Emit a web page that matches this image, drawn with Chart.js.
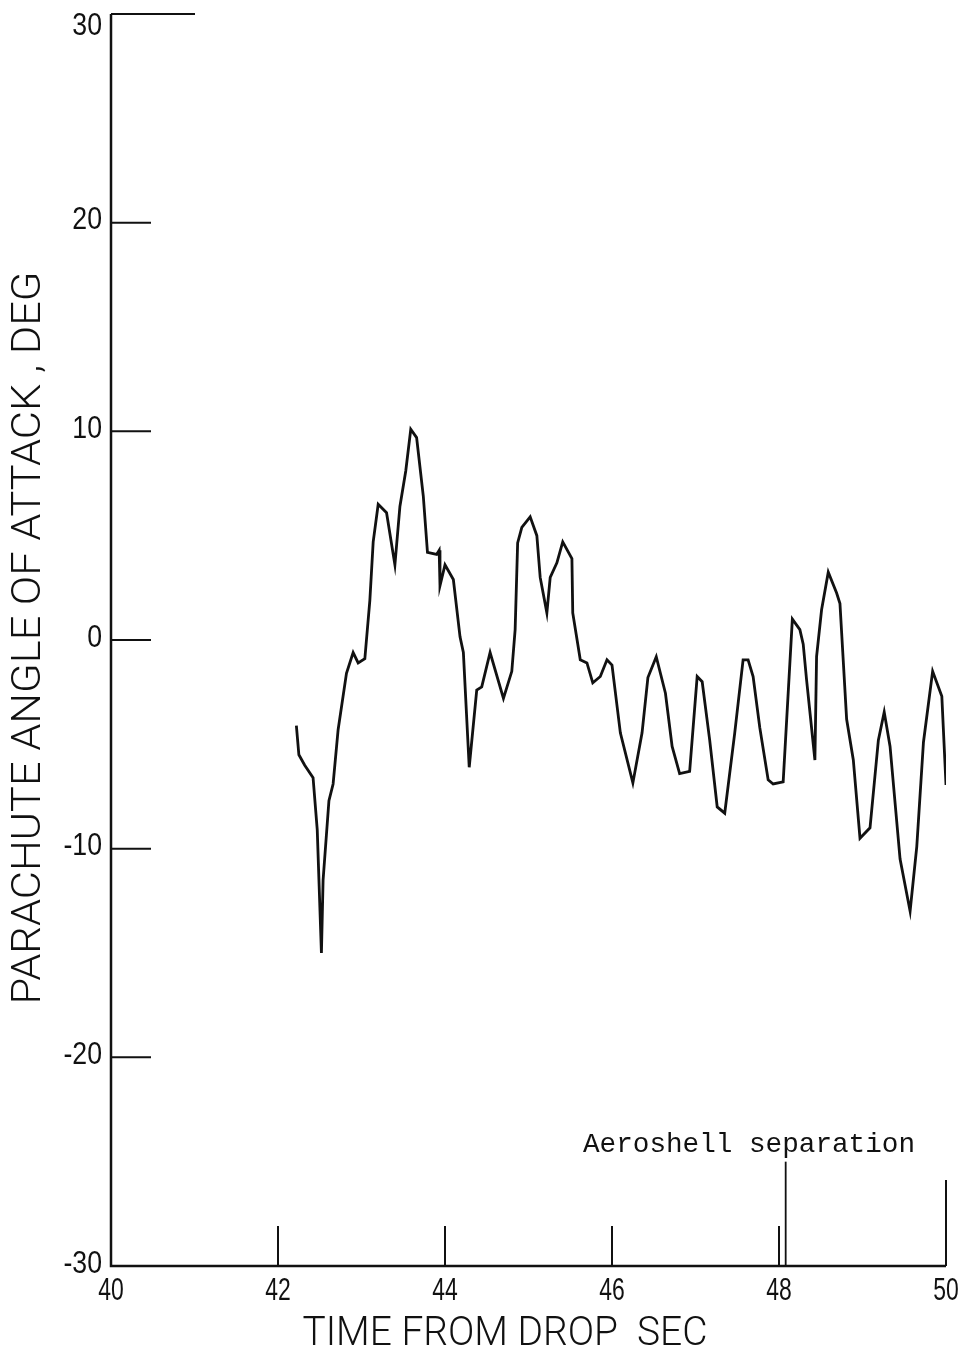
<!DOCTYPE html>
<html>
<head>
<meta charset="utf-8">
<script src="https://cdn.jsdelivr.net/npm/chart.js@4"></script>
<style>
  html, body { margin: 0; padding: 0; background: #fff; }
  canvas { display: block; }
</style>
</head>
<body>
<canvas id="chart" width="968" height="1353"></canvas>
<script>
// Time from drop (sec) and parachute angle of attack (deg)
const times = [
    42.22, 42.25, 42.32, 42.42, 42.47, 42.52, 42.54, 42.61, 42.66, 42.72,
    42.82, 42.90, 42.96, 43.04, 43.10, 43.14, 43.20, 43.30, 43.40, 43.46,
    43.53, 43.59, 43.66, 43.74, 43.79, 43.90, 43.93, 43.94, 44.00, 44.10,
    44.18, 44.22, 44.29, 44.38, 44.44, 44.54, 44.70, 44.80, 44.84, 44.87,
    44.92, 45.02, 45.10, 45.14, 45.22, 45.26, 45.34, 45.41, 45.52, 45.53,
    45.62, 45.70, 45.77, 45.86, 45.94, 46.00, 46.10, 46.25, 46.36, 46.43,
    46.53, 46.64, 46.72, 46.81, 46.93, 47.02, 47.08, 47.17, 47.26, 47.35,
    47.47, 47.57, 47.63, 47.69, 47.77, 47.87, 47.93, 48.05, 48.16, 48.25,
    48.29, 48.33, 48.43, 48.45, 48.51, 48.59, 48.69, 48.73, 48.81, 48.89,
    48.97, 49.09, 49.19, 49.26, 49.33, 49.45, 49.57, 49.65, 49.73, 49.84,
    49.95, 50.00
];
const angles = [
    -4.1, -5.5, -6.0, -6.6, -9.1, -15.0, -11.5, -7.7, -6.9, -4.3,
    -1.6, -0.6, -1.1, -0.9, 1.9, 4.7, 6.5, 6.1, 3.6, 6.4,
    8.1, 10.1, 9.7, 6.9, 4.2, 4.1, 4.3, 2.6, 3.6, 2.9,
    0.15, -0.6, -6.1, -2.4, -2.25, -0.6, -2.8, -1.5, 0.5, 4.65,
    5.4, 5.9, 5.0, 3.0, 1.3, 3.0, 3.7, 4.7, 3.9, 1.3,
    -0.95, -1.1, -2.05, -1.75, -0.95, -1.2, -4.45, -6.85, -4.45, -1.8,
    -0.8, -2.55, -5.1, -6.4, -6.3, -1.75, -2.0, -4.8, -8.0, -8.3,
    -4.45, -0.95, -0.95, -1.75, -4.2, -6.7, -6.9, -6.8, 1.0, 0.5,
    -0.2, -1.9, -5.75, -0.8, 1.45, 3.25, 2.25, 1.75, -3.8, -5.75,
    -9.5, -9.0, -4.8, -3.45, -5.1, -10.5, -13.0, -9.9, -4.9, -1.5,
    -2.7, -6.95
];

const xTicks = [40, 42, 44, 46, 48, 50];
const yTicks = [-30, -20, -10, 0, 10, 20, 30];

// Aeroshell separation marker
const separationTime = 48.08;
const separationTop = -25.0;
const separationLabel = "Aeroshell separation";

const xTitle = "TIME FROM DROP  SEC";
const yTitle = "PARACHUTE ANGLE OF ATTACK , DEG";

const INK = "#111";

// draw text squeezed/stretched to a given width
function fitText(ctx, text, cx, cy, width, font, angle) {
    ctx.save();
    ctx.translate(cx, cy);
    if (angle) ctx.rotate(angle);
    ctx.font = font;
    const w = ctx.measureText(text).width;
    ctx.scale(width / w, 1);
    ctx.textAlign = "center";
    ctx.textBaseline = "middle";
    ctx.fillText(text, 0, 0);
    ctx.restore();
}

const plotterAxes = {
    id: "plotterAxes",
    afterDraw(chart) {
        const { ctx, chartArea: a, scales: { x, y } } = chart;
        ctx.save();
        ctx.strokeStyle = INK;
        ctx.fillStyle = INK;
        ctx.lineCap = "butt";

        // axis lines (left + bottom only)
        ctx.lineWidth = 2.5;
        ctx.beginPath();
        ctx.moveTo(a.left, a.top);
        ctx.lineTo(a.left, a.bottom);
        ctx.lineTo(a.right, a.bottom);
        ctx.stroke();

        // ticks point into the plot, the last one is longer
        ctx.lineWidth = 2;
        yTicks.forEach((v, i) => {
            if (i === 0) return;
            const py = y.getPixelForValue(v);
            const len = i === yTicks.length - 1 ? 84 : 40;
            ctx.beginPath();
            ctx.moveTo(a.left, py);
            ctx.lineTo(a.left + len, py);
            ctx.stroke();
        });
        xTicks.forEach((v, i) => {
            if (i === 0) return;
            const px = x.getPixelForValue(v);
            const len = i === xTicks.length - 1 ? 86 : 40;
            ctx.beginPath();
            ctx.moveTo(px, a.bottom);
            ctx.lineTo(px, a.bottom - len);
            ctx.stroke();
        });

        // tick labels
        ctx.textBaseline = "middle";
        yTicks.forEach(v => {
            const py = Math.max(y.getPixelForValue(v), a.top + 14);
            ctx.save();
            ctx.translate(a.left - 9, py - 2);
            ctx.scale(0.86, 1);
            ctx.font = '31px "Liberation Sans"';
            ctx.textAlign = "right";
            ctx.fillText(String(v), 0, 0);
            ctx.restore();
        });
        xTicks.forEach(v => {
            const px = x.getPixelForValue(v);
            ctx.save();
            ctx.translate(px, a.bottom + 25);
            ctx.scale(0.74, 1);
            ctx.font = '31px "Liberation Sans"';
            ctx.textAlign = "center";
            ctx.fillText(String(v), 0, 0);
            ctx.restore();
        });

        // axis titles
        fitText(ctx, xTitle, 505, 1335, 405, '300 40px Roboto', 0);
        fitText(ctx, yTitle, 30, 638, 733, '300 40px Roboto', -Math.PI / 2);

        // separation annotation
        ctx.save();
        ctx.font = '28px "Liberation Mono"';
        const w = ctx.measureText(separationLabel).width;
        ctx.translate(583, 1152);
        ctx.scale(332 / w, 1);
        ctx.textAlign = "left";
        ctx.textBaseline = "alphabetic";
        ctx.fillText(separationLabel, 0, 0);
        ctx.restore();

        ctx.restore();
    }
};

new Chart(document.getElementById("chart").getContext("2d"), {
    type: "line",
    data: {
        datasets: [
            {
                label: "Angle of attack",
                data: times.map((t, i) => ({ x: t, y: angles[i] })),
                borderColor: INK,
                borderWidth: 2.8,
                pointRadius: 0,
                tension: 0,
                fill: false
            },
            {
                label: "Aeroshell separation",
                data: [
                    { x: separationTime, y: yTicks[0] },
                    { x: separationTime, y: separationTop }
                ],
                borderColor: INK,
                borderWidth: 1.8,
                pointRadius: 0,
                fill: false
            }
        ]
    },
    options: {
        responsive: false,
        animation: false,
        layout: { padding: { left: 111, right: 22, top: 14, bottom: 87 } },
        plugins: {
            legend: { display: false },
            tooltip: { enabled: false }
        },
        scales: {
            x: { type: "linear", min: 40, max: 50, display: false },
            y: { type: "linear", min: -30, max: 30, display: false }
        }
    },
    plugins: [plotterAxes]
});
</script>
</body>
</html>
